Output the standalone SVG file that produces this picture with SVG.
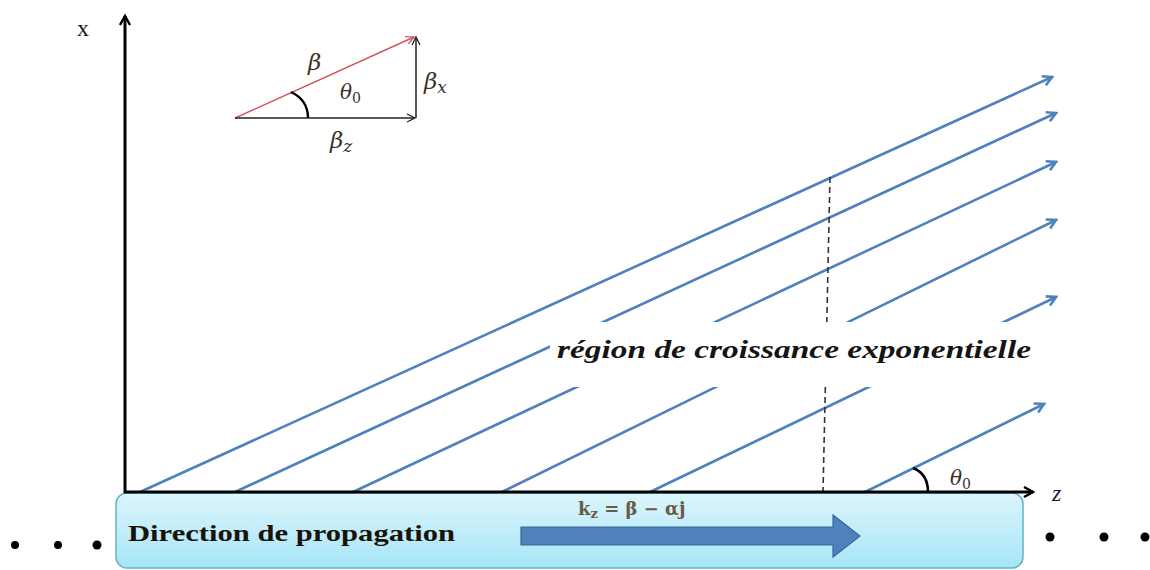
<svg xmlns="http://www.w3.org/2000/svg" width="1150" height="570" viewBox="0 0 1150 570">
<style>
.ray{stroke:#4f81bd;stroke-width:2.6;fill:none;stroke-linecap:round;marker-end:url(#blueArrow)}
.ax{stroke:#000;stroke-width:3;fill:none}
.blk{stroke:#222;stroke-width:1.5;fill:none}
.greek{font-family:"DejaVu Serif","Liberation Serif",serif;font-style:italic;fill:#3a3026}
.dot{fill:#000}
</style>
<defs>
<marker id="blueArrow" markerWidth="14" markerHeight="14" refX="10" refY="6" orient="auto" markerUnits="userSpaceOnUse">
<path d="M1,1 L10,6 L1,11" fill="none" stroke="#4f81bd" stroke-width="2.6" stroke-linejoin="miter"/>
</marker>
<marker id="blkArrow" markerWidth="14" markerHeight="14" refX="10" refY="6" orient="auto" markerUnits="userSpaceOnUse">
<path d="M1,1 L10,6 L1,11" fill="none" stroke="#000" stroke-width="2.4"/>
</marker>
<marker id="thinBlk" markerWidth="12" markerHeight="12" refX="9" refY="5" orient="auto" markerUnits="userSpaceOnUse">
<path d="M1,1 L9,5 L1,9" fill="none" stroke="#222" stroke-width="1.3"/>
</marker>
<marker id="thinRed" markerWidth="12" markerHeight="12" refX="9" refY="5" orient="auto" markerUnits="userSpaceOnUse">
<path d="M1,1 L9,5 L1,9" fill="none" stroke="#d0555a" stroke-width="1.3"/>
</marker>
<linearGradient id="boxGrad" x1="0" y1="0" x2="0" y2="1">
<stop offset="0" stop-color="#dcf6fd"/>
<stop offset="1" stop-color="#a6e5f6"/>
</linearGradient>
</defs>
<rect width="1150" height="570" fill="#fff"/>

<g id="connectors">
<line class="ray" x1="140" y1="492" x2="1052" y2="77"/>
<line class="ray" x1="235" y1="492" x2="1056" y2="113"/>
<line class="ray" x1="353" y1="492" x2="1056" y2="162"/>
<line class="ray" x1="502" y1="492" x2="1056" y2="220"/>
<line class="ray" x1="650" y1="492" x2="1056" y2="297"/>
<line class="ray" x1="865" y1="492" x2="1044" y2="404"/>
<line x1="830" y1="177" x2="823" y2="492" stroke="#333" stroke-width="1.6" stroke-dasharray="6,4"/>
</g>

<g id="region-label">
<rect x="550" y="322" width="496" height="65" fill="#fff"/>
<text x="557" y="358" font-family="Liberation Serif, serif" font-weight="bold" font-style="italic" font-size="25" fill="#151515" textLength="474" lengthAdjust="spacingAndGlyphs">région de croissance exponentielle</text>
</g>

<g id="propagation-box">
<rect x="116" y="493" width="907" height="75" rx="11" fill="url(#boxGrad)" stroke="#62b3c8" stroke-width="1.5"/>
<text x="128" y="541" font-family="Liberation Serif, serif" font-weight="bold" font-size="24" fill="#1a1208" textLength="327" lengthAdjust="spacingAndGlyphs">Direction de propagation</text>
<text x="578" y="515" font-family="DejaVu Serif, Liberation Serif, serif" font-weight="bold" font-size="18" fill="#6b5a44">k<tspan font-size="13" dy="3">z</tspan><tspan dy="-3"> = β − αj</tspan></text>
<path d="M521,527 L833,527 L833,515 L860,536 L833,557 L833,545 L521,545 Z" fill="#4f81bd" stroke="#3b6697" stroke-width="1.2"/>
</g>

<g id="axes">
<line class="ax" x1="125" y1="493" x2="125" y2="16" marker-end="url(#blkArrow)"/>
<line class="ax" x1="124" y1="492" x2="1033" y2="492" marker-end="url(#blkArrow)"/>
<text x="77" y="36" font-family="Liberation Serif, serif" font-size="24" fill="#1a1a1a">x</text>
<text x="1052" y="501" font-family="Liberation Serif, serif" font-style="italic" font-size="24" fill="#1a1a3a">z</text>
</g>

<g id="angle-bottom">
<path d="M913,468 Q928,474 928,492" fill="none" stroke="#000" stroke-width="2.6"/>
<text x="950" y="485" class="greek" font-size="20">θ<tspan font-size="14" dy="4" font-style="normal">0</tspan></text>
</g>

<g id="vector-triangle">
<line x1="235" y1="118" x2="414" y2="37" stroke="#d0555a" stroke-width="1.4" marker-end="url(#thinRed)"/>
<line class="blk" x1="235" y1="118" x2="415" y2="118" marker-end="url(#thinBlk)"/>
<line class="blk" x1="416" y1="118" x2="416" y2="37" marker-end="url(#thinBlk)"/>
<path d="M291,92 Q308,100 308,118" fill="none" stroke="#000" stroke-width="2.4"/>
<text x="308" y="70" class="greek" font-size="23">β</text>
<text x="340" y="99" class="greek" font-size="20">θ<tspan font-size="14" dy="4" font-style="normal">0</tspan></text>
<text x="424" y="89" class="greek" font-size="23">β<tspan font-size="17" dy="4">x</tspan></text>
<text x="330" y="148" class="greek" font-size="23">β<tspan font-size="17" dy="4">z</tspan></text>
</g>

<g id="dots">
<circle class="dot" cx="15" cy="545" r="4"/>
<circle class="dot" cx="58" cy="545" r="4"/>
<circle class="dot" cx="97" cy="545" r="4.5"/>
<circle class="dot" cx="1050" cy="537" r="4.5"/>
<circle class="dot" cx="1104" cy="537" r="4.5"/>
<circle class="dot" cx="1145" cy="537" r="4.5"/>
</g>
</svg>
